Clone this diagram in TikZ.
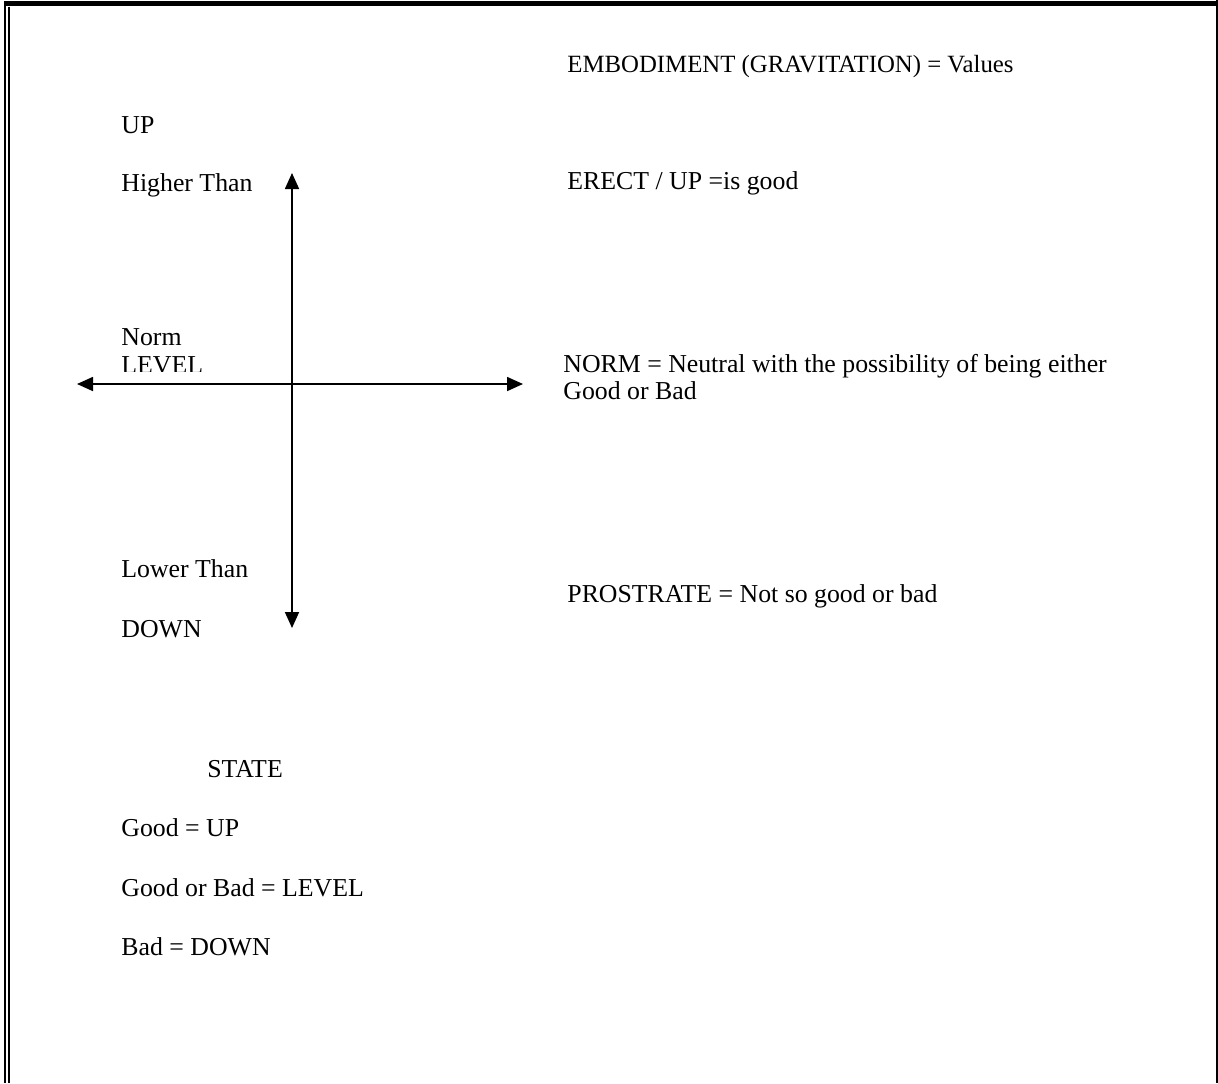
\documentclass[tikz,border=0pt]{standalone}
\usepackage{fontspec}
\setmainfont{Liberation Serif}
\usetikzlibrary{arrows.meta}

\tikzset{
  lbl/.style={anchor=base west, inner sep=0pt, font=\fontsize{12.9}{14.8}\selectfont},
  tightlbl/.style={lbl, font=\fontsize{12.4}{14.2}\selectfont},
  axisline/.style={line width=0.85pt, {Triangle[length=8pt,width=7pt]}-{Triangle[length=8pt,width=7pt]}},
  frameline/.style={line width=1.1pt}
}

\begin{document}
\begin{tikzpicture}[x=0.5pt,y=-0.5pt]
 \useasboundingbox (0,0) rectangle (1218,1083);
 % frame
 \draw[frameline] (5,4) -- (5,1083);
 \draw[frameline] (8.7,6.5) -- (8.7,1083);
 \draw[line width=2.5pt] (4,3.8) -- (1218,3.8);
 \draw[line width=0.9pt] (1217,0) -- (1217,1083);

 % axes
 \coordinate (up) at (292,173);
 \coordinate (down) at (292,628);
 \coordinate (left) at (77,384);
 \coordinate (right) at (523,384);
 \draw[axisline] (down) -- (up);
 \draw[axisline] (left) -- (right);

 % left labels
 \node[lbl] (uplbl) at (121,133) {UP};
 \node[lbl] (higher) at (121,191) {Higher Than};
 \node[lbl] (norm) at (121,345) {Norm};
 \begin{scope}
  \clip (100,350) rectangle (270,371);
  \node[lbl] (level) at (121,373) {LEVEL};
 \end{scope}
 \node[lbl] (lower) at (121,577) {Lower Than};
 \node[lbl] (downlbl) at (121,637) {DOWN};

 % right labels
 \node[tightlbl] (embody) at (567,72) {EMBODIMENT (GRAVITATION) = Values};
 \node[lbl] (erect) at (567,189) {ERECT / UP =is good};
 \node[lbl] (neutral) at (563,372) {NORM = Neutral with the possibility of being either};
 \node[lbl] (neutral2) at (563,399) {Good or Bad};
 \node[lbl] (prostrate) at (567,602) {PROSTRATE = Not so good or bad};

 % state list
 \node[lbl] (state) at (207,777) {STATE};
 \node[lbl] (good) at (121,836) {Good = UP};
 \node[lbl] (either) at (121,896) {Good or Bad = LEVEL};
 \node[lbl] (bad) at (121,955) {Bad = DOWN};
\end{tikzpicture}
\end{document}
